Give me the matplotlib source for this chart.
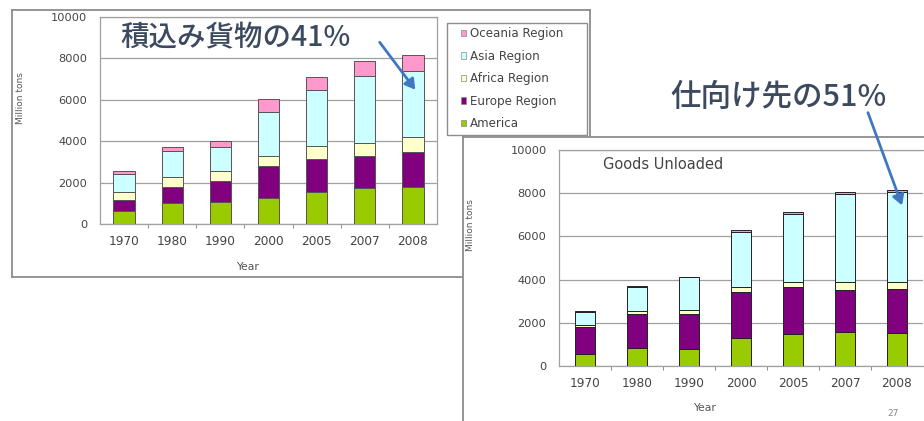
import matplotlib
matplotlib.use('Agg')
import matplotlib.pyplot as plt
from matplotlib.patches import Patch, FancyArrowPatch, Rectangle
import numpy as np

years = ['1970', '1980', '1990', '2000', '2005', '2007', '2008']
regions = ['America', 'Europe Region', 'Africa Region', 'Asia Region', 'Oceania Region']
colors = ['#99cc00', '#800080', '#ffffcc', '#ccffff', '#ff99cc']

# goods loaded (million tons)
load_america = [650, 1020, 1085, 1250, 1570, 1715, 1800]
load_europe = [520, 780, 975, 1535, 1570, 1555, 1665]
load_africa = [370, 470, 480, 485, 620, 650, 745]
load_asia = [890, 1280, 1170, 2140, 2720, 3240, 3190]
load_oceania = [110, 160, 290, 615, 630, 730, 760]

# goods unloaded (million tons)
unload_america = [540, 850, 800, 1310, 1480, 1560, 1510]
unload_europe = [1280, 1540, 1590, 2100, 2190, 1960, 2055]
unload_africa = [60, 160, 190, 250, 230, 370, 335]
unload_asia = [635, 1120, 1520, 2530, 3120, 4060, 4170]
unload_oceania = [45, 50, 35, 120, 125, 105, 80]

W, H = 924, 421
fig = plt.figure(figsize=(9.24, 4.21), dpi=100)
fig.patch.set_facecolor('white')


def px(x0, y0, x1, y1):
    # pixel box (from top-left) -> figure rect
    return [x0 / W, 1 - y1 / H, (x1 - x0) / W, (y1 - y0) / H]


def panel(rect):
    p = fig.add_axes(rect)
    p.set_xticks([])
    p.set_yticks([])
    p.set_facecolor('white')
    for s in p.spines.values():
        s.set_color('#8c8c8c')
        s.set_linewidth(1.3)
    return p


def stacked(ax, series, width, edge):
    x = np.arange(len(years))
    bottom = np.zeros(len(years))
    for vals, c in zip(series, colors):
        ax.bar(x, vals, width, bottom=bottom, color=c, edgecolor=edge,
               linewidth=0.7, zorder=3)
        bottom += np.array(vals)
    ax.set_xlim(-0.5, len(years) - 0.5)
    ax.set_ylim(0, 10000)
    ax.set_yticks(range(0, 10001, 2000))
    ax.set_xticks(x)
    ax.set_xticklabels(years)
    ax.set_xticks(np.arange(0.5, len(years) - 1, 1), minor=True)
    ax.tick_params(axis='x', which='major', length=0, pad=8, labelsize=8.7,
                   labelcolor='#444444')
    ax.tick_params(axis='x', which='minor', length=3, color='#777777', direction='out')
    ax.tick_params(axis='y', length=0, pad=9, labelsize=8.2, labelcolor='#444444')
    ax.grid(axis='y', color='#a0a0a0', linewidth=0.9, zorder=0)
    for s in ax.spines.values():
        s.set_color('#a0a0a0')
        s.set_linewidth(0.9)
    ax.set_xlabel('Year', fontsize=7.8, color='#555555')
    ax.set_ylabel('Million tons', fontsize=6.5, color='#555555')


# left panel: goods loaded
panel(px(12, 10, 590, 277))
ax1 = fig.add_axes(px(100, 17, 437, 224))
stacked(ax1, [load_america, load_europe, load_africa, load_asia, load_oceania], 0.44, '#555555')
ax1.xaxis.set_label_coords(0.439, -0.184)
ax1.yaxis.set_label_coords(-0.223, 0.61)

# legend box + frameless legend inside it
lb = px(447, 23, 587, 135)
ax1.add_patch(Rectangle((lb[0], lb[1]), lb[2], lb[3], transform=fig.transFigure,
                        facecolor='white', edgecolor='#8c8c8c', linewidth=1.0,
                        clip_on=False, zorder=5))
handles = [Patch(facecolor=c, edgecolor='#888888', linewidth=0.5, label=r)
           for r, c in zip(regions, colors)][::-1]
leg = ax1.legend(handles=handles, loc='upper left',
                 bbox_to_anchor=(461 / W, 1 - 27 / H), bbox_transform=fig.transFigure,
                 fontsize=8.6, frameon=False,
                 handlelength=0.45, handleheight=0.45, handletextpad=0.3,
                 labelspacing=0.8, borderpad=0, borderaxespad=0)
leg.set_zorder(6)
for t in leg.get_texts():
    t.set_color('#444444')

# right panel: goods unloaded
panel([463 / W, -0.05, 0.6, 1 - 137 / H + 0.05])
ax2 = fig.add_axes(px(559, 150, 923, 366))
stacked(ax2, [unload_america, unload_europe, unload_africa, unload_asia, unload_oceania], 0.4, '#222222')
ax2.spines['right'].set_visible(False)
ax2.xaxis.set_label_coords(0.401, -0.171)
ax2.yaxis.set_label_coords(-0.231, 0.653)
ax2.text(0.121, 0.935, 'Goods Unloaded', transform=ax2.transAxes, fontsize=10.5,
         color='#444444', ha='left', va='center')

fig.text(893 / W, 1 - 413 / H, '27', fontsize=6.5, color='#888888', ha='center', va='center')

# callouts
jp = ['Noto Sans CJK JP', 'DejaVu Sans']
fig.text(120 / W, 1 - 38 / H, '積込み貨物の41%', family=jp, fontsize=20.5, fontweight='medium',
         color='#3b4a5e', ha='left', va='center', zorder=10)
fig.text(670 / W, 1 - 97 / H, '仕向け先の51%', family=jp, fontsize=22, fontweight='medium',
         color='#3b4a5e', ha='left', va='center', zorder=10)

for (x0, y0), (x1, y1) in [((378, 40), (417, 92)), ((867, 110), (903, 208))]:
    arr = FancyArrowPatch((x0 / W, 1 - y0 / H), (x1 / W, 1 - y1 / H),
                          transform=fig.transFigure, arrowstyle='-|>,head_length=6,head_width=3.5',
                          color='#3f78c0', linewidth=2.0, zorder=10)
    fig.add_artist(arr)

fig.savefig('out.png', dpi=100)
